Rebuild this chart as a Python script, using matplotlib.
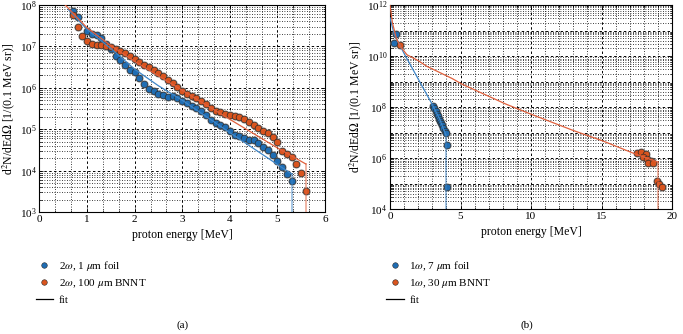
import numpy as np
import matplotlib
matplotlib.use("Agg")
import matplotlib.pyplot as plt
from matplotlib.ticker import LogLocator, MultipleLocator, NullFormatter
from matplotlib.lines import Line2D


# -----------------------------
# Data (values as log10)
# -----------------------------
# (a) 2w shots
a_foil_E = [0.7, 0.8, 1.0, 1.1, 1.2, 1.3, 1.4, 1.5, 1.6, 1.7, 1.8, 1.9, 2.0,
            2.1, 2.2, 2.3, 2.4, 2.5, 2.6, 2.7, 2.8, 2.9, 3.0, 3.1, 3.2, 3.3,
            3.4, 3.5, 3.6, 3.7, 3.8, 3.9, 4.0, 4.1, 4.2, 4.3, 4.4, 4.5, 4.6,
            4.7, 4.8, 4.9, 5.0, 5.1, 5.2, 5.3]
a_foil_log = [7.85, 7.70, 7.37, 7.29, 7.28, 7.20, 7.05, 6.94, 6.78, 6.68, 6.56,
              6.44, 6.38, 6.24, 6.10, 5.98, 5.92, 5.86, 5.83, 5.79, 5.80, 5.75,
              5.68, 5.63, 5.57, 5.52, 5.44, 5.35, 5.23, 5.15, 5.11, 5.05, 4.95,
              4.87, 4.83, 4.79, 4.75, 4.73, 4.66, 4.58, 4.50, 4.37, 4.24, 4.10,
              3.92, 3.74]

a_bnnt_E = [0.7, 0.8, 0.9, 1.0, 1.1, 1.2, 1.3, 1.4, 1.5, 1.6, 1.7, 1.8, 1.9,
            2.0, 2.1, 2.2, 2.3, 2.4, 2.5, 2.6, 2.7, 2.8, 2.9, 3.0, 3.1, 3.2,
            3.3, 3.4, 3.5, 3.6, 3.7, 3.8, 3.9, 4.0, 4.1, 4.2, 4.3, 4.4, 4.5,
            4.6, 4.7, 4.8, 4.9, 5.0, 5.1, 5.2, 5.3, 5.4, 5.5, 5.6]
a_bnnt_log = [7.75, 7.48, 7.24, 7.14, 7.05, 7.03, 7.03, 7.02, 6.98, 6.94, 6.90,
              6.84, 6.78, 6.69, 6.62, 6.56, 6.50, 6.44, 6.36, 6.28, 6.20, 6.12,
              6.02, 5.92, 5.86, 5.81, 5.76, 5.68, 5.60, 5.51, 5.44, 5.41, 5.38,
              5.35, 5.33, 5.30, 5.24, 5.17, 5.11, 5.03, 4.95, 4.90, 4.82, 4.69,
              4.48, 4.40, 4.32, 4.17, 3.95, 3.52]

a_foil_fit_E = [0.6, 1.0, 1.5, 2.0, 2.5, 3.0, 4.0, 5.0, 5.3, 5.3]
a_foil_fit_log = [7.90, 7.41, 6.95, 6.45, 6.05, 5.70, 4.92, 4.15, 3.92, 2.0]
a_bnnt_fit_E = [0.5, 1.0, 1.5, 2.0, 3.0, 4.0, 5.0, 5.6, 5.6]
a_bnnt_fit_log = [8.05, 7.45, 7.02, 6.64, 5.94, 5.24, 4.55, 4.16, 2.0]

# (b) 1w shots
b_foil_E = [0.31, 0.42, 3.03, 3.14, 3.24, 3.31, 3.40, 3.48, 3.55, 3.62, 3.69,
            3.78, 3.88, 3.97, 4.02, 4.07]
b_foil_log = [10.51, 10.85, 8.05, 7.96, 7.83, 7.73, 7.64, 7.55, 7.47, 7.38,
              7.29, 7.19, 7.08, 6.99, 6.52, 4.87]

b_bnnt_E = [0.71, 17.54, 17.78, 18.16, 17.92, 18.25, 18.49, 18.32, 18.63,
            18.91, 19.10, 19.27]
b_bnnt_log = [10.44, 6.18, 6.22, 6.16, 6.03, 5.98, 5.87, 5.82, 5.80, 5.10,
              5.00, 4.87]

b_foil_fit_E = [0.0, 0.3, 1.0, 2.0, 3.0, 3.5, 3.97, 3.97]
b_foil_fit_log = [11.5, 10.85, 10.10, 9.10, 8.10, 7.55, 6.90, 3.0]
b_bnnt_fit_E = [0.0, 0.17, 0.45, 0.71, 1.2, 2.0, 2.6, 4.4, 5.1, 8.2, 10.0,
                13.0, 15.1, 17.3, 19.0, 19.0]
b_bnnt_fit_log = [12.0, 11.31, 10.70, 10.40, 10.05, 9.82, 9.60, 9.12, 8.90,
                  8.12, 7.72, 7.08, 6.67, 6.18, 5.84, 3.0]

labels_a = [r"2$\omega$, 1 $\mu$m foil", r"2$\omega$, 100 $\mu$m BNNT", "fit"]
labels_b = [r"1$\omega$, 7 $\mu$m foil", r"1$\omega$, 30 $\mu$m BNNT", "fit"]


# -----------------------------
# Style
# -----------------------------
plt.rcParams["font.family"] = ["Liberation Serif", "DejaVu Serif"]
plt.rcParams["mathtext.fontset"] = "stix"
plt.rcParams["font.size"] = 8

blue = "#1f6db3"
red = "#d9541e"
blue_line = "#3f86c8"
red_line = "#e0603c"


def style_axes(ax):
    ax.set_yscale("log")
    ax.tick_params(which="both", direction="in", top=True, right=True,
                   labelsize=8, pad=2)
    ax.tick_params(which="major", length=3, width=0.6)
    ax.tick_params(which="minor", length=1.8, width=0.5)
    ax.grid(which="major", color="black", linestyle=(0, (2.5, 2.5)),
            linewidth=0.7)
    ax.grid(which="minor", color="black", linestyle=(0, (1, 2)),
            linewidth=0.6)
    ax.yaxis.set_minor_locator(LogLocator(base=10, subs=np.arange(2, 10)))
    ax.yaxis.set_minor_formatter(NullFormatter())
    for s in ax.spines.values():
        s.set_linewidth(0.8)
    ax.set_axisbelow(True)


def draw_points(ax, E, logv, col):
    v = 10.0 ** np.array(logv)
    ax.plot(E, v, "o", ms=6.2, color="#b0b0b0", alpha=0.7, mec="none",
            zorder=3)
    ax.plot(E, v, "o", ms=4.8, color=col, mec="#2b2b2b", mew=0.5, zorder=4)


def draw_fit(ax, E, logv, col):
    v = 10.0 ** np.array(logv)
    ax.plot(E[:-1], v[:-1], color=col, lw=0.9, zorder=5)
    ax.plot(E[-2:], v[-2:], color=col, lw=1.2, alpha=0.55, zorder=5)


fig = plt.figure(figsize=(6.83, 3.34), dpi=100)
ax1 = fig.add_axes([0.0578, 0.365, 0.418, 0.620])
ax2 = fig.add_axes([0.571, 0.374, 0.413, 0.611])

# -----------------------------
# (a)
# -----------------------------
style_axes(ax1)
draw_fit(ax1, a_foil_fit_E, a_foil_fit_log, blue_line)
draw_fit(ax1, a_bnnt_fit_E, a_bnnt_fit_log, red_line)
draw_points(ax1, a_foil_E, a_foil_log, blue)
draw_points(ax1, a_bnnt_E, a_bnnt_log, red)
ax1.set_xlim(0, 6)
ax1.set_ylim(1e3, 1e8)
ax1.xaxis.set_major_locator(MultipleLocator(1))
ax1.xaxis.set_minor_locator(MultipleLocator(1 / 3))
ax1.yaxis.set_major_locator(LogLocator(base=10, numticks=10))
ax1.set_xlabel("proton energy [MeV]", fontsize=8.5, labelpad=4)
ax1.set_ylabel(r"d$^2$N/dEd$\Omega$ [1/(0.1 MeV sr)]", fontsize=8.5,
               labelpad=2)

# -----------------------------
# (b)
# -----------------------------
style_axes(ax2)
draw_fit(ax2, b_foil_fit_E, b_foil_fit_log, blue_line)
draw_fit(ax2, b_bnnt_fit_E, b_bnnt_fit_log, red_line)
draw_points(ax2, b_foil_E, b_foil_log, blue)
draw_points(ax2, b_bnnt_E, b_bnnt_log, red)
ax2.set_xlim(0, 20)
ax2.set_ylim(1e4, 1e12)
ax2.xaxis.set_major_locator(MultipleLocator(5))
ax2.xaxis.set_minor_locator(MultipleLocator(1))
ax2.set_yticks([10.0 ** k for k in range(4, 13, 2)])
ax2.set_xlabel("proton energy [MeV]", fontsize=8.5, labelpad=4)
ax2.set_ylabel(r"d$^2$N/dEd$\Omega$ [1/(0.1 MeV sr)]", fontsize=8.5,
               labelpad=2)
# odd decades get a grid line but no label
for k in range(5, 12, 2):
    ax2.axhline(10.0 ** k, color="black", linestyle=(0, (2.5, 2.5)),
                linewidth=0.7, zorder=1)


# -----------------------------
# Legends below the panels
# -----------------------------
def legend(labels, x0):
    handles = [
        Line2D([], [], marker="o", ls="none", ms=4, color=blue, mec="#2b2b2b",
               mew=0.4),
        Line2D([], [], marker="o", ls="none", ms=4, color=red, mec="#2b2b2b",
               mew=0.4),
        Line2D([], [], color="black", lw=0.9),
    ]
    fig.legend(handles, labels, loc="upper left",
               bbox_to_anchor=(x0, 0.225), frameon=False, fontsize=8,
               handlelength=1.6, handletextpad=0.5, labelspacing=0.4,
               borderaxespad=0, borderpad=0)


legend(labels_a, 0.052)
legend(labels_b, 0.565)

fig.text(0.268, 0.012, "(a)", ha="center", va="bottom", fontsize=8)
fig.text(0.772, 0.012, "(b)", ha="center", va="bottom", fontsize=8)

fig.savefig("out.png", dpi=100)
plt.close(fig)
